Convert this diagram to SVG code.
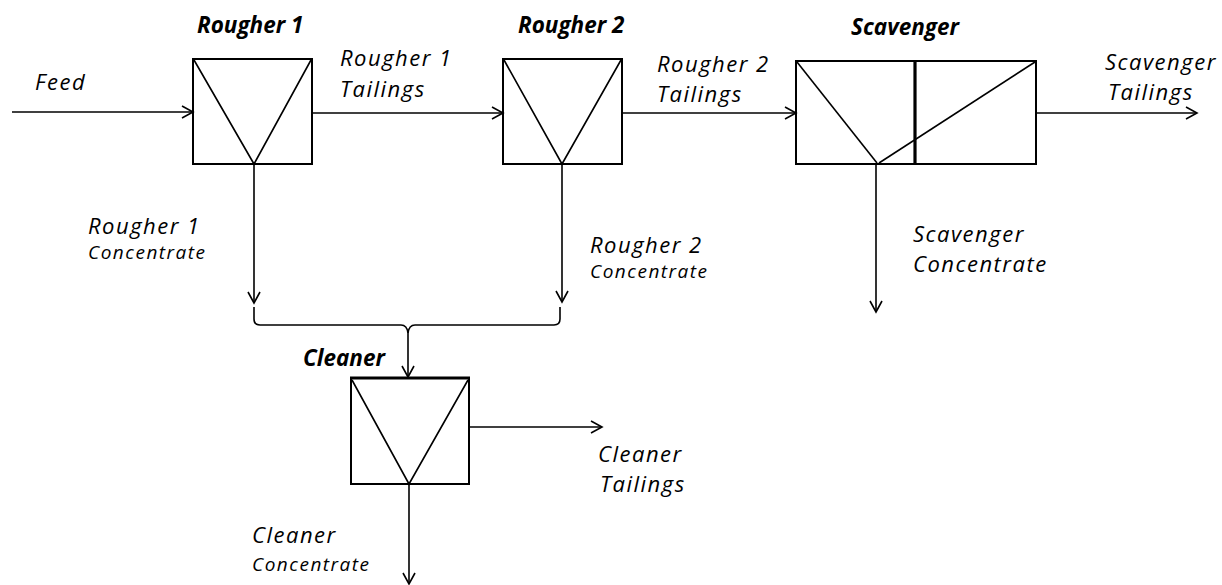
<svg xmlns="http://www.w3.org/2000/svg" width="1222" height="585" viewBox="0 0 1222 585">
  <style>
    .bg { fill: #ffffff; }
    .box { fill: none; stroke: #000; stroke-width: 2; }
    .thin { fill: none; stroke: #000; stroke-width: 1.6; }
    .thick { fill: none; stroke: #000; stroke-width: 3.2; }
    .flow { fill: none; stroke: #000; stroke-width: 1.6; marker-end: url(#arrow); }
    .title { font-family: "Open Sans", "Noto Sans", sans-serif; font-style: italic; font-weight: bold; font-size: 22.5px; fill: #000; }
    .lbl { font-family: "Open Sans", "Noto Sans", sans-serif; font-style: italic; font-size: 22px; letter-spacing: 1.5px; fill: #000; }
    .sm { font-family: "Open Sans", "Noto Sans", sans-serif; font-style: italic; font-size: 19px; letter-spacing: 1.5px; fill: #000; }
  </style>
  <defs>
    <marker id="arrow" markerUnits="userSpaceOnUse" markerWidth="14" markerHeight="16" refX="12" refY="7" orient="auto">
      <path d="M1,1 L12,7 L1,13" fill="none" stroke="#000" stroke-width="1.6"/>
    </marker>
  </defs>
  <rect class="bg" x="0" y="0" width="1222" height="585"/>

  <!-- Rougher 1 cell -->
  <g id="rougher1">
    <rect class="box" x="193" y="59" width="119" height="105"/>
    <polyline class="thin" points="194,60 254,164 311,60"/>
    <text class="title" x="197" y="33">Rougher 1</text>
  </g>

  <!-- Rougher 2 cell -->
  <g id="rougher2">
    <rect class="box" x="503" y="59" width="119" height="105"/>
    <polyline class="thin" points="504,60 562,164 621,60"/>
    <text class="title" x="518" y="33">Rougher 2</text>
  </g>

  <!-- Scavenger cell, two compartments -->
  <g id="scavenger">
    <rect class="box" x="796" y="61" width="240" height="103"/>
    <line class="thick" x1="915" y1="61" x2="915" y2="164"/>
    <polyline class="thin" points="797,62 877,163"/>
    <polyline class="thin" points="879,163 1035,62"/>
    <text class="title" x="851" y="35">Scavenger</text>
  </g>

  <!-- Cleaner cell -->
  <g id="cleaner">
    <rect class="box" x="351" y="378" width="118" height="106"/>
    <line class="thick" x1="350" y1="378" x2="470" y2="378"/>
    <polyline class="thin" points="352,380 409,484 468,380"/>
    <text class="title" x="303" y="366">Cleaner</text>
  </g>

  <!-- Flow lines -->
  <g id="connectors">
    <line class="flow" x1="12" y1="112" x2="193" y2="112"/>
    <line class="flow" x1="312" y1="113" x2="503" y2="113"/>
    <line class="flow" x1="622" y1="113" x2="796" y2="113"/>
    <line class="flow" x1="1036" y1="113" x2="1197" y2="113"/>
    <line class="flow" x1="254" y1="164" x2="254" y2="303"/>
    <line class="flow" x1="562" y1="164" x2="562" y2="302"/>
    <line class="flow" x1="876" y1="164" x2="876" y2="312"/>
    <!-- brace joining both rougher concentrates -->
    <path class="thin" d="M254,307 L254,319 Q254,325 260,325 L401,325 Q407,325 408,333"/>
    <path class="thin" d="M560,307 L560,319 Q560,325 554,325 L415,325 Q409,325 408,333"/>
    <line class="flow" x1="408" y1="333" x2="408" y2="377"/>
    <line class="flow" x1="469" y1="427" x2="602" y2="427"/>
    <line class="flow" x1="409" y1="484" x2="409" y2="584"/>
  </g>

  <!-- Stream labels -->
  <g id="labels">
    <text class="lbl" x="35" y="90">Feed</text>
    <text class="lbl" x="340" y="66">Rougher 1</text>
    <text class="lbl" x="340" y="97">Tailings</text>
    <text class="lbl" x="657" y="72">Rougher 2</text>
    <text class="lbl" x="657" y="102">Tailings</text>
    <text class="lbl" x="1105" y="70">Scavenger</text>
    <text class="lbl" x="1108" y="100">Tailings</text>
    <text class="lbl" x="88" y="234">Rougher 1</text>
    <text class="sm" x="88" y="259">Concentrate</text>
    <text class="lbl" x="590" y="253">Rougher 2</text>
    <text class="sm" x="590" y="278">Concentrate</text>
    <text class="lbl" x="913" y="242">Scavenger</text>
    <text class="lbl" x="913" y="272">Concentrate</text>
    <text class="lbl" x="598" y="462">Cleaner</text>
    <text class="lbl" x="600" y="492">Tailings</text>
    <text class="lbl" x="252" y="543">Cleaner</text>
    <text class="sm" x="252" y="571">Concentrate</text>
  </g>
</svg>
